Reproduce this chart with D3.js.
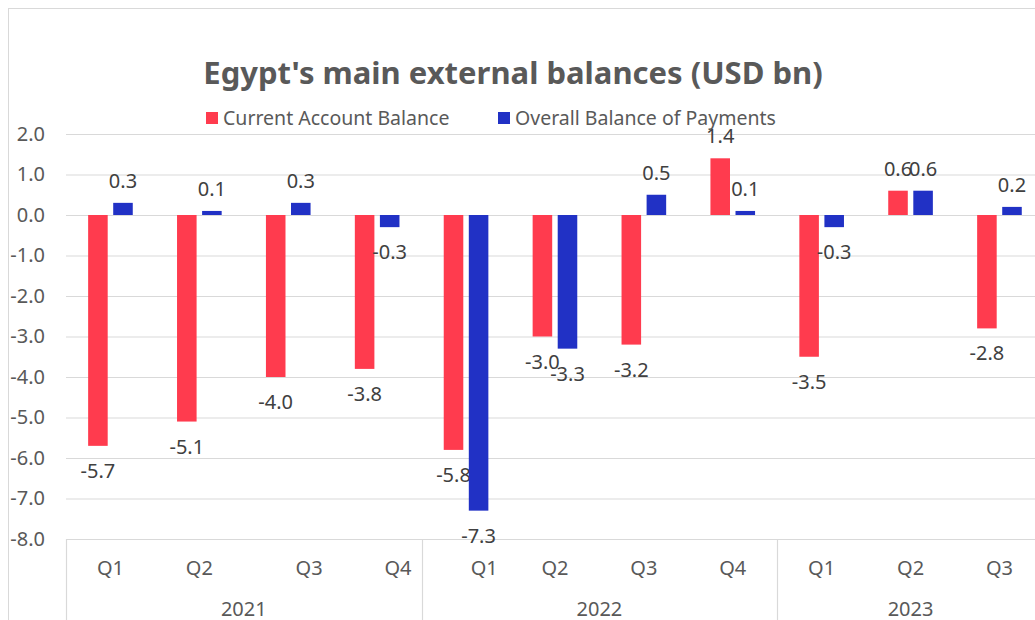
<!DOCTYPE html>
<html>
<head>
<meta charset="utf-8">
<script src="https://cdn.jsdelivr.net/npm/d3@7"></script>
<style>
  html, body { margin: 0; padding: 0; background: #ffffff; }
  svg { display: block; font-family: "Noto Sans", "Open Sans", sans-serif; }
</style>
</head>
<body>
<svg id="chart" width="1035" height="620"></svg>
<script>
// Quarterly categories, grouped by year
const quarters = ["Q1", "Q2", "\u00a0\u00a0\u00a0\u00a0\u00a0\u00a0\u00a0\u00a0Q3", "\u00a0\u00a0\u00a0\u00a0\u00a0\u00a0\u00a0\u00a0Q4",
                  "\u00a0\u00a0\u00a0\u00a0\u00a0\u00a0\u00a0Q1", "Q2", "Q3", "Q4",
                  "Q1", "Q2", "Q3"];
const years = ["2021", "2022", "2023"];
const quartersPerYear = [4, 4, 3];

// Series values (USD bn)
const currentAccount = [-5.7, -5.1, -4.0, -3.8, -5.8, -3.0, -3.2, 1.4, -3.5, 0.6, -2.8];
const overallBoP     = [0.3, 0.1, 0.3, -0.3, -7.3, -3.3, 0.5, 0.1, -0.3, 0.6, 0.2];

const seriesNames = ["Current Account Balance", "Overall Balance of Payments"];
const seriesColors = ["#FF3B4E", "#2131C5"];

// Value axis ticks
const yTicks = [2, 1, 0, -1, -2, -3, -4, -5, -6, -7, -8];

const svg = d3.select("#chart");
const W = 1035, H = 620;
const FONT = "\"Noto Sans\", \"Open Sans\", sans-serif";
const LABEL_SIZE = 20;

const plot = { left: 66, top: 134, bottom: 539, band: 88.9 };

const x = d3.scaleBand()
  .domain(d3.range(quarters.length))
  .range([plot.left, plot.left + plot.band * quarters.length])
  .paddingInner(0).paddingOuter(0);

const y = d3.scaleLinear().domain([-8, 2]).range([plot.bottom, plot.top]);

const fmt = d3.formatLocale({ decimal: ".", thousands: ",", grouping: [3], currency: ["$", ""], minus: "-" }).format(".1f");

// Chart frame
svg.append("rect")
  .attr("x", 8.5).attr("y", 8.5)
  .attr("width", W + 20).attr("height", H + 20)
  .attr("fill", "#ffffff").attr("stroke", "#d9d9d9").attr("stroke-width", 1);

// Title
svg.append("text")
  .attr("x", 513).attr("y", 84)
  .attr("text-anchor", "middle")
  .attr("font-size", 31).attr("font-weight", "bold")
  .attr("fill", "#595959")
  .text("Egypt's main external balances (USD bn)");

// Legend
const legendItems = [
  { name: seriesNames[0], color: seriesColors[0], x: 206 },
  { name: seriesNames[1], color: seriesColors[1], x: 498 }
];
const legend = svg.append("g");
legendItems.forEach(d => {
  legend.append("rect")
    .attr("x", d.x).attr("y", 112).attr("width", 12).attr("height", 12)
    .attr("fill", d.color);
  legend.append("text")
    .attr("x", d.x + 17).attr("y", 125)
    .attr("font-size", 19.5).attr("fill", "#595959")
    .text(d.name);
});

// Horizontal gridlines with value labels
const yAxis = d3.axisLeft(y).tickValues(yTicks).tickFormat(fmt).tickSize(-(W + 20 - plot.left)).tickPadding(21);
const yG = svg.append("g").attr("transform", `translate(${plot.left},0)`).call(yAxis);
yG.select(".domain").remove();
yG.selectAll(".tick line").attr("stroke", "#d9d9d9").attr("stroke-width", 1.2);
yG.selectAll(".tick text")
  .attr("font-size", LABEL_SIZE).attr("fill", "#595959")
  .attr("font-family", FONT);

// Bars
const barW = plot.band * 0.22;
const gap = plot.band * 0.062;
const series = [currentAccount, overallBoP];
series.forEach((vals, s) => {
  const off = s === 0 ? -gap / 2 - barW : gap / 2;
  svg.append("g").selectAll("rect")
    .data(vals)
    .join("rect")
    .attr("x", (d, i) => x(i) + x.bandwidth() / 2 + off)
    .attr("y", d => y(Math.max(0, d)))
    .attr("width", barW)
    .attr("height", d => Math.abs(y(d) - y(0)))
    .attr("fill", seriesColors[s]);

  // Value labels
  svg.append("g").selectAll("text")
    .data(vals)
    .join("text")
    .attr("x", (d, i) => x(i) + x.bandwidth() / 2 + off + barW / 2)
    .attr("y", d => d >= 0 ? y(d) - 15 : y(d) + 32)
    .attr("text-anchor", "middle")
    .attr("font-size", LABEL_SIZE).attr("fill", "#404040")
    .text(d => fmt(d));
});

// Category axis: group separators
const boundaries = [0];
quartersPerYear.reduce((acc, n) => { boundaries.push(acc + n); return acc + n; }, 0);
const catAxis = svg.append("g");
boundaries.forEach(b => {
  const bx = b < quarters.length ? x(b) : x(quarters.length - 1) + x.bandwidth();
  catAxis.append("line")
    .attr("x1", Math.round(bx) + 0.5).attr("x2", Math.round(bx) + 0.5)
    .attr("y1", plot.bottom).attr("y2", H + 10)
    .attr("stroke", "#d9d9d9").attr("stroke-width", 1.2);
});

// Quarter labels
catAxis.selectAll("text.q")
  .data(quarters)
  .join("text")
  .attr("class", "q")
  .attr("x", (d, i) => x(i) + x.bandwidth() / 2)
  .attr("y", 575)
  .attr("text-anchor", "middle")
  .attr("font-size", LABEL_SIZE).attr("fill", "#595959")
  .style("white-space", "pre")
  .text(d => d);

// Year labels
catAxis.selectAll("text.yr")
  .data(years)
  .join("text")
  .attr("class", "yr")
  .attr("x", (d, i) => {
    const start = boundaries[i], end = boundaries[i + 1];
    return (x(start) + x(end - 1) + x.bandwidth()) / 2;
  })
  .attr("y", 616)
  .attr("text-anchor", "middle")
  .attr("font-size", LABEL_SIZE).attr("fill", "#595959")
  .text(d => d);
</script>
</body>
</html>
